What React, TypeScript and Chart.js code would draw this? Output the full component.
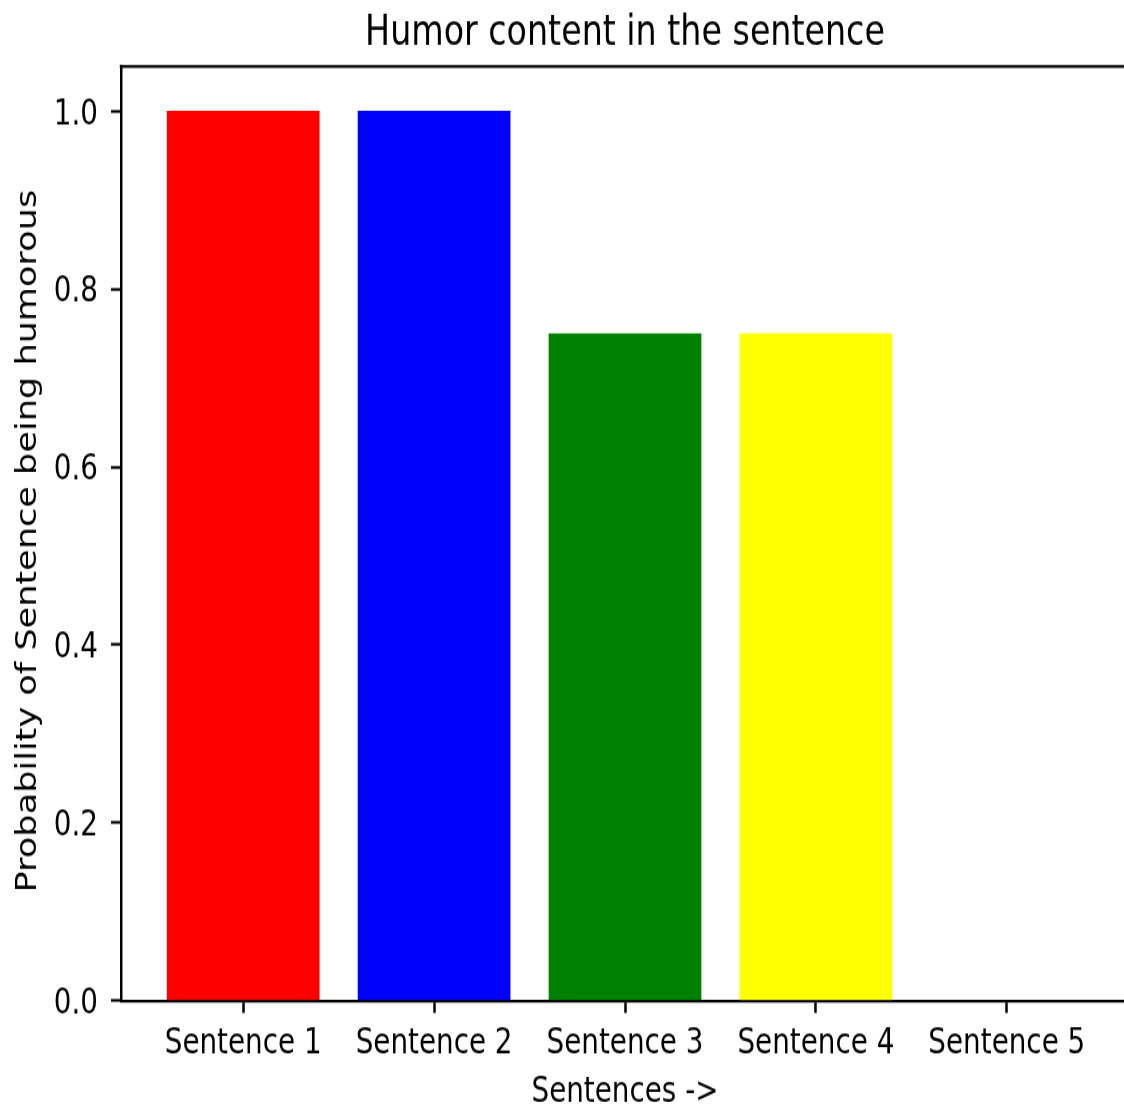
import React, { useEffect, useRef } from "react";
import { Chart, registerables } from "chart.js";

Chart.register(...registerables);

const TITLE = "Humor content in the sentence";
const X_TITLE = "Sentences ->";
const Y_TITLE = "Probability of Sentence being humorous";
const CATEGORIES = ["Sentence 1", "Sentence 2", "Sentence 3", "Sentence 4", "Sentence 5"];
const VALUES = [1.0, 1.0, 0.75, 0.75, 0.0];
const COLORS = ["#ff0000", "#0000ff", "#008000", "#ffff00", "#ff00ff"];
const Y_TICKS = [0, 0.2, 0.4, 0.6, 0.8, 1.0];
const X_MIN = -0.64;
const X_MAX = 4.64;
const Y_MIN = 0;
const Y_MAX = 1.05;

const W = 1140;
const SY = 1.245;
const H = 1107 / SY;
const FONT = "'DejaVu Sans', sans-serif";
const TICK_FS = 27.8;
const YLABEL_FS = 28.2;
const TITLE_FS = 33.3;
const HLW = 2.2; // horizontal line width (logical, stretched vertically)
const VLW = 2.5; // vertical line width

const spinesPlugin = {
  id: "spines",
  afterDraw(chart: any) {
    const { ctx, chartArea } = chart;
    ctx.save();
    ctx.strokeStyle = "#000";
    ctx.lineWidth = HLW;
    ctx.beginPath();
    ctx.moveTo(chartArea.left - VLW / 2, chartArea.top);
    ctx.lineTo(chartArea.right + VLW / 2, chartArea.top);
    ctx.stroke();
    ctx.lineWidth = VLW;
    ctx.beginPath();
    ctx.moveTo(chartArea.right, chartArea.top);
    ctx.lineTo(chartArea.right, chartArea.bottom);
    ctx.stroke();
    // y axis label
    ctx.translate(36, 541 / SY);
    ctx.rotate(-Math.PI / 2);
    ctx.fillStyle = "#000";
    ctx.font = `${YLABEL_FS}px ${FONT}`;
    ctx.textAlign = "center";
    ctx.textBaseline = "alphabetic";
    ctx.fillText(Y_TITLE, 0, 0);
    ctx.restore();
  },
};

export default function App() {
  const ref = useRef<HTMLCanvasElement | null>(null);

  useEffect(() => {
    if (!ref.current) return;
    const chart = new Chart(ref.current, {
      type: "bar",
      data: {
        datasets: [
          {
            data: VALUES.map((v, i) => ({ x: i, y: v })),
            backgroundColor: COLORS,
            borderWidth: 0,
            barPercentage: 0.8,
            categoryPercentage: 1.0,
          },
        ],
      },
      options: {
        animation: false,
        responsive: false,
        devicePixelRatio: 1,
        layout: { padding: { left: 0, right: W - 1129, top: 0, bottom: 0 } },
        plugins: {
          legend: { display: false },
          tooltip: { enabled: false },
          title: {
            display: true,
            text: TITLE,
            fullSize: false,
            color: "#000",
            font: { family: FONT, size: TITLE_FS, weight: "normal", lineHeight: 1.2 },
            padding: { top: 7, bottom: 6.4 },
          },
        },
        scales: {
          x: {
            type: "linear",
            min: X_MIN,
            max: X_MAX,
            offset: false,
            afterBuildTicks: (axis: any) => {
              axis.ticks = CATEGORIES.map((_, i) => ({ value: i }));
            },
            afterFit: (scale: any) => {
              scale.height = H - 1001 / SY;
            },
            grid: {
              display: true,
              offset: false,
              drawOnChartArea: false,
              drawTicks: true,
              tickLength: 9.7,
              tickWidth: VLW,
              tickColor: "#000",
              color: "#000",
            },
            border: { display: true, color: "#000", width: HLW },
            ticks: {
              color: "#000",
              font: { family: FONT, size: TICK_FS, lineHeight: 1.2 },
              padding: 8.5,
              maxRotation: 0,
              autoSkip: false,
              callback: (v: any) => CATEGORIES[Math.round(Number(v))] ?? "",
            },
            title: {
              display: true,
              text: X_TITLE,
              color: "#000",
              font: { family: FONT, size: TICK_FS, lineHeight: 0.82 },
              padding: { top: 0, bottom: 0 },
            },
          },
          y: {
            type: "linear",
            min: Y_MIN,
            max: Y_MAX,
            afterBuildTicks: (axis: any) => {
              axis.ticks = Y_TICKS.map((v) => ({ value: v }));
            },
            afterFit: (scale: any) => {
              scale.width = 121;
            },
            grid: {
              display: true,
              drawOnChartArea: false,
              drawTicks: true,
              tickLength: 10,
              tickWidth: HLW,
              tickColor: "#000",
              color: "#000",
            },
            border: { display: true, color: "#000", width: VLW },
            ticks: {
              color: "#000",
              font: { family: FONT, size: TICK_FS, lineHeight: 1.2 },
              padding: 13,
              labelOffset: 3.2,
              callback: (v: any) => Number(v).toFixed(1),
            },
            title: { display: false },
          },
        },
      },
      plugins: [spinesPlugin],
    } as any);
    return () => chart.destroy();
  }, []);

  return (
    <div
      style={{
        position: "fixed",
        left: 0,
        top: 0,
        width: 1124,
        height: 1107,
        overflow: "hidden",
        background: "#fff",
      }}
    >
      <div style={{ transform: `scaleY(${SY})`, transformOrigin: "0 0", width: W, height: H }}>
        <canvas ref={ref} width={W} height={H} style={{ display: "block", width: W, height: H }} />
      </div>
    </div>
  );
}
